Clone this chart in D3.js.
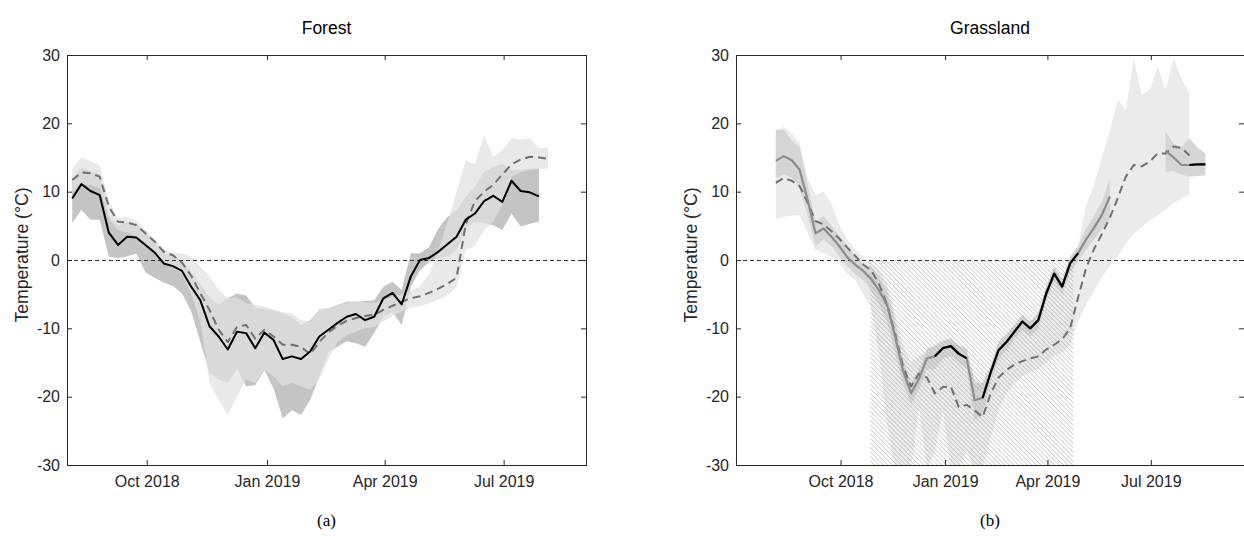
<!DOCTYPE html>
<html>
<head>
<meta charset="utf-8">
<script src="https://cdn.jsdelivr.net/npm/d3@7"></script>
<style>
  body { margin: 0; background: #fff; }
  svg { display: block; }
</style>
</head>
<body>
<svg id="chart" width="1244" height="545"></svg>
<script>
// ---- shared axis content ----
const yTicks = [-30, -20, -10, 0, 10, 20, 30];
const monthTickDates = ["2018-10-01", "2019-01-01", "2019-04-01", "2019-07-01"];
const monthLabels = ["Oct 2018", "Jan 2019", "Apr 2019", "Jul 2019"];
const firstWeek = "2018-08-05"; // weekly means, first week of the record

// ---- Forest: weekly mean temperature (solid) and comparison series (dashed) ----
const forestSolid = [9.0, 11.1, 10.1, 9.5, 4.0, 2.2, 3.4, 3.3, 2.2, 1.1,
  -0.5, -0.9, -1.6, -3.9, -5.9, -9.7, -11.2, -13.1, -10.5, -10.7,
  -12.9, -10.6, -11.7, -14.5, -14.1, -14.5, -13.4, -11.2, -10.2, -9.2,
  -8.3, -7.9, -8.8, -8.3, -5.6, -4.8, -6.5, -2.4, 0.0, 0.3,
  1.2, 2.3, 3.4, 5.9, 6.8, 8.6, 9.4, 8.5, 11.6, 10.1,
  9.9, 9.3];
const forestSolidHi = [12.0, 13.5, 13.0, 12.5, 6.5, 5.0, 5.6, 5.3, 4.0, 2.5,
  1.0, 0.6, 0.0, -1.8, -3.5, -5.5, -6.5, -5.6, -4.9, -5.2,
  -7.0, -7.1, -7.3, -7.8, -8.3, -9.5, -8.8, -7.3, -7.1, -6.6,
  -6.1, -6.1, -6.0, -5.9, -3.9, -3.2, -4.4, 1.0, 1.0, 1.9,
  4.6, 6.3, 7.3, 9.3, 10.7, 12.9, 13.7, 14.1, 13.2, 13.2,
  13.4, 13.4];
const forestSolidLo = [5.4, 7.3, 5.9, 5.9, 0.5, 0.3, 0.5, 1.0, -1.8, -2.6,
  -3.3, -3.8, -4.9, -7.5, -12.0, -16.5, -17.5, -18.0, -15.9, -18.5,
  -18.3, -16.1, -18.8, -23.2, -22.0, -22.7, -20.5, -17.0, -13.5, -12.7,
  -11.9, -12.2, -12.7, -10.7, -8.3, -7.6, -9.5, -3.9, -1.5, -0.3,
  0.3, 0.5, 1.5, 4.6, 5.6, 5.4, 5.1, 4.4, 6.8, 4.9,
  5.3, 5.6];
const forestDashed = [11.7, 12.8, 12.7, 12.2, 7.8, 5.6, 5.5, 5.1, 3.9, 2.7,
  1.2, 0.7, -0.4, -2.3, -4.9, -7.3, -10.2, -12.0, -9.8, -9.5,
  -11.5, -10.2, -11.2, -12.4, -12.4, -12.7, -13.8, -12.0, -10.6, -9.6,
  -8.9, -8.5, -8.2, -8.0, -7.3, -6.7, -6.1, -5.6, -5.3, -4.8,
  -4.2, -3.5, -2.6, 5.2, 8.6, 10.0, 11.0, 12.5, 14.0, 14.7,
  15.1, 15.0, 14.8];
const forestDashedHi = [13.4, 15.0, 14.5, 13.8, 8.8, 6.1, 6.3, 5.9, 4.4, 3.0,
  1.7, 1.1, 1.0, 0.5, -1.0, -2.4, -4.4, -5.6, -5.5, -6.3,
  -6.6, -6.8, -7.3, -7.6, -7.8, -8.8, -9.0, -7.1, -7.0, -6.5,
  -6.3, -6.0, -6.2, -6.3, -5.9, -5.4, -5.0, -4.5, -3.8, -2.0,
  1.5, 5.5, 10.0, 14.6, 14.0, 18.3, 15.1, 16.1, 17.8, 17.6,
  17.8, 16.3, 16.5];
const forestDashedLo = [10.0, 11.0, 11.0, 10.5, 6.0, 4.3, 4.0, 3.5, 2.3, 1.0,
  -0.5, -1.2, -2.0, -5.0, -9.0, -18.0, -20.5, -22.7, -20.0, -17.5,
  -18.0, -16.0, -17.0, -18.5, -18.0, -18.5, -19.0, -17.5, -14.5, -12.0,
  -11.0, -10.5, -10.0, -9.8, -9.0, -8.2, -7.5, -7.0, -6.8, -6.3,
  -5.8, -5.2, -4.0, 1.5, 2.0, 4.4, 5.6, 8.0, 12.2, 12.8,
  13.2, 13.3, 13.4];

// ---- Grassland ----
const grassSolid = [14.5, 15.2, 14.6, 13.2, 8.8, 3.9, 4.6, 3.4, 2.0, 0.4,
  -0.7, -1.6, -2.8, -4.5, -6.6, -11.2, -16.2, -19.5, -17.4, -14.4,
  -14.1, -12.9, -12.6, -13.7, -14.4, -20.5, -20.2, -16.5, -13.2, -12.0,
  -10.5, -9.0, -10.0, -8.8, -4.9, -2.0, -3.9, -0.5, 1.0, 3.0,
  4.7, 6.6, 9.3, null, null, null, null, null, null, 16.0,
  15.0, 13.9, 13.9, 14.0, 14.0];
// weeks whose segment to the next week is drawn in black
const grassSolidDark = [20, 21, 22, 23, 26, 27, 28, 29, 30, 31, 32, 33, 34, 35, 36, 37, 52, 53];
const grassSolidHi = [19.0, 19.1, 17.5, 16.5, 11.0, 5.5, 6.5, 5.0, 3.5, 2.0,
  0.5, -0.5, -1.0, -2.5, -4.5, -9.0, -14.5, -18.0, -16.0, -13.0,
  -12.5, -11.8, -11.5, -12.5, -13.0, -18.0, -18.0, -15.5, -12.0, -10.8,
  -9.5, -8.0, -9.0, -7.8, -3.8, -1.0, -2.8, 0.5, 2.0, 4.5,
  6.5, 8.5, 12.0, null, null, null, null, null, null, 18.8,
  17.0, 16.5, 17.8, 16.5, 15.6];
const grassSolidLo = [12.0, 12.5, 12.0, 10.5, 6.5, 2.0, 3.0, 2.0, 0.5, -1.0,
  -2.0, -3.0, -4.5, -6.5, -9.0, -13.5, -18.0, -21.0, -19.0, -16.0,
  -16.0, -14.5, -14.0, -15.0, -16.0, -23.5, -22.5, -18.0, -14.5, -13.2,
  -11.5, -10.2, -11.2, -10.0, -6.0, -3.0, -5.0, -1.8, -0.2, 1.5,
  3.0, 4.5, 6.0, null, null, null, null, null, null, 12.9,
  13.0, 12.5, 12.2, 12.3, 12.4];
const grassDashed = [11.3, 12.0, 11.6, 10.8, 8.4, 5.7, 5.2, 4.2, 3.1, 1.8,
  0.6, -0.7, -1.5, -3.6, -6.5, -10.8, -15.6, -18.5, -16.6, -17.2,
  -19.5, -18.6, -18.5, -21.5, -21.2, -22.0, -23.0, -19.6, -17.2, -16.1,
  -15.3, -14.8, -14.4, -14.1, -13.1, -12.4, -11.6, -10.0, -5.5, -1.2,
  1.6, 3.8, 6.2, 9.1, 12.2, 13.9, 13.7, 14.4, 15.6, 15.6,
  16.6, 16.4, 15.3];
const grassDashedHi = [19.0, 19.5, 18.5, 17.0, 12.0, 9.5, 10.0, 8.3, 5.0, 3.0,
  1.5, 0.5, -0.5, -1.5, -3.5, -8.0, -12.5, -15.0, -14.0, -13.5,
  -13.0, -12.0, -12.0, -13.0, -14.0, -17.0, -18.5, -16.5, -14.0, -12.0,
  -10.5, -8.5, -9.5, -8.0, -5.0, -2.5, -3.5, -1.0, 2.0, 8.0,
  11.0, 15.0, 19.0, 23.4, 22.0, 29.5, 24.1, 24.9, 28.3, 24.9,
  29.5, 26.5, 24.4];
const grassDashedLo = [6.0, 6.3, 6.5, 6.5, 4.0, 1.5, 1.0, 0.5, -0.5, -2.0,
  -3.0, -5.0, -7.0, -14.0, -24.0, -30.5, -30.5, -30.5, -21.5, -30.5,
  -28.0, -22.0, -30.5, -30.5, -28.0, -30.5, -30.5, -26.0, -22.0, -19.5,
  -18.0, -17.0, -16.5, -16.0, -15.0, -14.0, -13.5, -12.5, -9.0, -6.5,
  -4.5, -2.5, -1.0, 0.5, 2.5, 3.8, 4.8, 5.8, 6.5, 7.3,
  8.3, 9.0, 9.5];
// frozen-ground period shaded with hatching (dates, temperature span)
const grassHatchDates = ["2018-10-27", "2019-04-24"];
const grassHatchRange = [-30, 0];

// ---- layout ----
const yTop = 55, yBot = 465;
const parseDay = d3.timeParse("%Y-%m-%d");
const week0 = parseDay(firstWeek);
const weekDates = n => d3.timeWeek.range(week0, d3.timeWeek.offset(week0, n));

const AXIS = "#262626";
const FONT = "'Liberation Sans', Arial, Helvetica, sans-serif";

// bands are listed in drawing order; later ones sit on top
const panels = [
  {
    id: "forest", title: "Forest", caption: "(a)",
    left: 67, right: 586, domain: ["2018-08-01", "2019-09-02"],
    bands: [
      { hi: forestSolidHi, lo: forestSolidLo, fill: "#c3c4c3", opacity: 1 },
      { hi: forestDashedHi, lo: forestDashedLo, fill: "#e0e0e0", opacity: 0.72 }
    ],
    lines: [
      { v: forestDashed, color: "#707070", width: 2, dash: "8,5" },
      { v: forestSolid, color: "#000", width: 2 }
    ]
  },
  {
    id: "grass", title: "Grassland", caption: "(b)",
    left: 736, right: 1244, domain: ["2018-07-01", "2019-09-21"],
    bands: [
      { hi: grassDashedHi, lo: grassDashedLo, fill: "#ebebeb", opacity: 1 },
      { hi: grassSolidHi, lo: grassSolidLo, fill: "#d5d5d5", opacity: 1 }
    ],
    hatch: { dates: grassHatchDates, range: grassHatchRange },
    lines: [
      { v: grassDashed, color: "#707070", width: 2, dash: "8,5" },
      { v: grassSolid, color: "#8c8c8c", width: 2.2, dark: grassSolidDark }
    ]
  }
];

const svg = d3.select("#chart");
const defs = svg.append("defs");

// diagonal hatching
const pat = defs.append("pattern")
  .attr("id", "hatch").attr("patternUnits", "userSpaceOnUse")
  .attr("width", 4.5).attr("height", 4.5);
pat.append("path")
  .attr("d", "M-1,-1 L5.5,5.5 M-1,3.5 L1,5.5 M3.5,-1 L5.5,1")
  .attr("stroke", "#a6a6a6").attr("stroke-width", 0.7).attr("fill", "none");

const y = d3.scaleLinear().domain([-30, 30]).range([yBot, yTop]);

panels.forEach(p => {
  const x = d3.scaleTime().domain(p.domain.map(parseDay)).range([p.left, p.right]);
  const g = svg.append("g").attr("class", "panel-" + p.id);

  defs.append("clipPath").attr("id", "clip-" + p.id)
    .append("rect").attr("x", p.left).attr("y", yTop)
    .attr("width", p.right - p.left).attr("height", yBot - yTop);
  const plot = g.append("g").attr("clip-path", `url(#clip-${p.id})`);

  // uncertainty bands
  p.bands.forEach(b => {
    const dates = weekDates(b.hi.length);
    const rows = dates.map((d, i) => ({ d, hi: b.hi[i], lo: b.lo[i] }));
    const area = d3.area()
      .defined(r => r.hi != null && r.lo != null)
      .x(r => x(r.d)).y0(r => y(r.lo)).y1(r => y(r.hi));
    plot.append("path").datum(rows).attr("d", area)
      .attr("fill", b.fill).attr("fill-opacity", b.opacity);
  });

  // hatched period
  if (p.hatch) {
    const [d0, d1] = p.hatch.dates.map(parseDay);
    plot.append("rect")
      .attr("x", x(d0)).attr("width", x(d1) - x(d0))
      .attr("y", y(p.hatch.range[1])).attr("height", y(p.hatch.range[0]) - y(p.hatch.range[1]))
      .attr("fill", "url(#hatch)");
  }

  // zero reference
  plot.append("line")
    .attr("x1", p.left).attr("x2", p.right)
    .attr("y1", Math.round(y(0)) + 0.5).attr("y2", Math.round(y(0)) + 0.5)
    .attr("stroke", "#333").attr("stroke-width", 1).attr("stroke-dasharray", "4,3");

  // series lines
  p.lines.forEach(l => {
    const dates = weekDates(l.v.length);
    const rows = dates.map((d, i) => ({ d, v: l.v[i], i }));
    const line = d3.line().defined(r => r.v != null).x(r => x(r.d)).y(r => y(r.v));
    const path = plot.append("path").datum(rows).attr("d", line)
      .attr("fill", "none").attr("stroke", l.color).attr("stroke-width", l.width)
      .attr("stroke-linejoin", "round");
    if (l.dash) path.attr("stroke-dasharray", l.dash);
    if (l.dark) {
      const dk = new Set(l.dark);
      const darkLine = d3.line()
        .defined(r => r.v != null && (dk.has(r.i) || dk.has(r.i - 1)))
        .x(r => x(r.d)).y(r => y(r.v));
      plot.append("path").datum(rows).attr("d", darkLine)
        .attr("fill", "none").attr("stroke", "#000").attr("stroke-width", 2.2)
        .attr("stroke-linejoin", "round");
    }
  });

  // axes: ticks point inwards on all four sides
  const tickDates = monthTickDates.map(parseDay);
  const styleAxis = sel => {
    sel.select(".domain").remove();
    sel.selectAll(".tick line").attr("stroke", AXIS);
    sel.selectAll(".tick text").attr("fill", AXIS)
      .attr("font-family", FONT).attr("font-size", 16);
  };
  g.append("g").attr("transform", `translate(0,${yBot})`)
    .call(d3.axisBottom(x).tickValues(tickDates).tickFormat((d, i) => monthLabels[i])
      .tickSize(-5).tickSizeOuter(0).tickPadding(11))
    .call(styleAxis);
  g.append("g").attr("transform", `translate(0,${yTop})`)
    .call(d3.axisTop(x).tickValues(tickDates).tickFormat("").tickSize(-5).tickSizeOuter(0))
    .call(styleAxis);
  g.append("g").attr("transform", `translate(${p.left},0)`)
    .call(d3.axisLeft(y).tickValues(yTicks).tickFormat(d => String(d))
      .tickSize(-5).tickSizeOuter(0).tickPadding(7))
    .call(styleAxis);
  g.append("g").attr("transform", `translate(${p.right},0)`)
    .call(d3.axisRight(y).tickValues(yTicks).tickFormat("").tickSize(-5).tickSizeOuter(0))
    .call(styleAxis);

  // frame
  g.append("rect")
    .attr("x", p.left + 0.5).attr("y", yTop + 0.5)
    .attr("width", p.right - p.left).attr("height", yBot - yTop)
    .attr("fill", "none").attr("stroke", AXIS).attr("stroke-width", 1);

  const cx = (p.left + p.right) / 2;
  g.append("text").attr("x", cx).attr("y", 34)
    .attr("text-anchor", "middle").attr("font-family", FONT).attr("font-size", 17.5)
    .attr("fill", "#000").text(p.title);
  g.append("text")
    .attr("transform", `translate(${p.left - 39},${(yTop + yBot) / 2 - 5}) rotate(-90)`)
    .attr("text-anchor", "middle").attr("font-family", FONT).attr("font-size", 17.6)
    .attr("fill", AXIS).text("Temperature (°C)");
  g.append("text").attr("x", cx).attr("y", 526)
    .attr("text-anchor", "middle")
    .attr("font-family", "'Liberation Serif', 'Times New Roman', serif").attr("font-size", 17)
    .attr("fill", "#000").text(p.caption);
});
</script>
</body>
</html>
